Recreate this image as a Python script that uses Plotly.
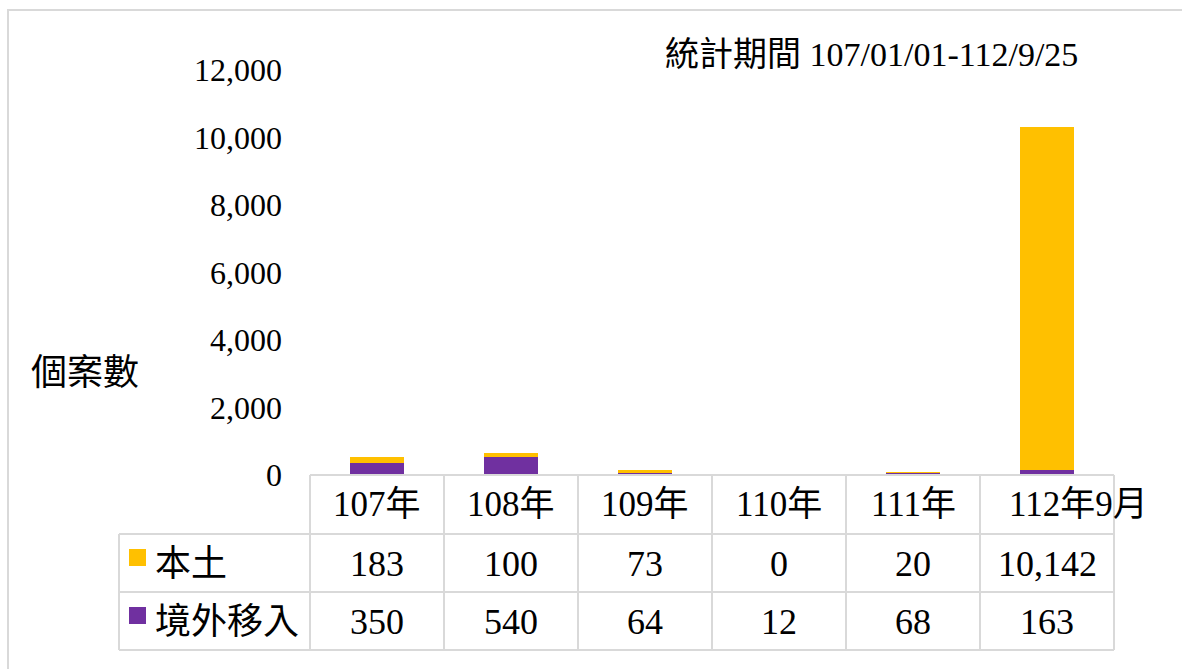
import plotly.graph_objects as go

categories = ["107年", "108年", "109年", "110年", "111年", "112年9月"]
local_cases = [183, 100, 73, 0, 20, 10142]
imported_cases = [350, 540, 64, 12, 68, 163]
series_names = ["本土", "境外移入"]
series_colors = ["#FFC000", "#7030A0"]
tick_values = [0, 2000, 4000, 6000, 8000, 10000, 12000]
title_text = "統計期間 107/01/01-112/9/25"
y_title = "個案數"

W, H = 1182, 669
L, R, T, B = 310, 1114, 70, 475  # plot area in pixels
PW, PH = R - L, B - T


def px(x):
    return (x - L) / PW


def py(y):
    return (B - y) / PH


NUM_FONT = "Liberation Serif, Noto Sans CJK TC"
GRID = "#D9D9D9"

fig = go.Figure()
fig.add_trace(go.Bar(x=categories, y=imported_cases, name=series_names[1],
                     marker=dict(color=series_colors[1], line=dict(width=0)), width=0.4))
fig.add_trace(go.Bar(x=categories, y=local_cases, name=series_names[0],
                     marker=dict(color=series_colors[0], line=dict(width=0)), width=0.4))

shapes = []
# outer frame
shapes.append(dict(type="rect", xref="paper", yref="paper", x0=px(8), x1=px(1200),
                   y0=py(10), y1=py(700), line=dict(color=GRID, width=2), layer="below"))
# table lines
row_y = [475, 534, 592, 650]
col_x = [L + i * PW / 6 for i in range(7)]
left_x = 119
shapes.append(dict(type="line", xref="paper", yref="paper", x0=px(L), x1=px(R),
                   y0=py(row_y[0]), y1=py(row_y[0]), line=dict(color=GRID, width=2)))
for yy in row_y[1:]:
    shapes.append(dict(type="line", xref="paper", yref="paper", x0=px(left_x), x1=px(R),
                       y0=py(yy), y1=py(yy), line=dict(color=GRID, width=2)))
for xx in col_x:
    shapes.append(dict(type="line", xref="paper", yref="paper", x0=px(xx), x1=px(xx),
                       y0=py(row_y[0]), y1=py(row_y[3]), line=dict(color=GRID, width=2)))
shapes.append(dict(type="line", xref="paper", yref="paper", x0=px(left_x), x1=px(left_x),
                   y0=py(row_y[1]), y1=py(row_y[3]), line=dict(color=GRID, width=2)))
# legend keys
for i, c in enumerate(series_colors):
    yc = (row_y[i + 1] + row_y[i + 2]) / 2
    shapes.append(dict(type="rect", xref="paper", yref="paper", x0=px(129), x1=px(146),
                       y0=py(yc - 14), y1=py(yc + 3), line=dict(width=0), fillcolor=c))

annotations = []
annotations.append(dict(text=title_text, xref="paper", yref="paper", x=px(663), y=py(54),
                        xanchor="left", yanchor="middle", showarrow=False,
                        font=dict(family=NUM_FONT, size=34, color="#000")))
annotations.append(dict(text=y_title, xref="paper", yref="paper", x=px(29), y=py(373),
                        xanchor="left", yanchor="middle", showarrow=False,
                        font=dict(family=NUM_FONT, size=36, color="#000")))
# header
for i, cat in enumerate(categories):
    a = dict(text=cat, xref="x", yref="paper", x=cat, y=py(505), xanchor="center",
             yanchor="middle", showarrow=False,
             font=dict(family=NUM_FONT, size=35, color="#000"))
    if i == len(categories) - 1:
        a.update(xanchor="left", xshift=-40)
    annotations.append(a)
# rows
for r, (name, vals) in enumerate([(series_names[0], local_cases), (series_names[1], imported_cases)]):
    yc = (row_y[r + 1] + row_y[r + 2]) / 2
    annotations.append(dict(text=name, xref="paper", yref="paper", x=px(153), y=py(yc + 1),
                            xanchor="left", yanchor="middle", showarrow=False,
                            font=dict(family=NUM_FONT, size=36, color="#000")))
    for cat, v in zip(categories, vals):
        annotations.append(dict(text=f"{v:,}", xref="x", yref="paper", x=cat, y=py(yc + 1),
                                xanchor="center", yanchor="middle", showarrow=False,
                                font=dict(family=NUM_FONT, size=36, color="#000")))

fig.update_layout(
    width=W, height=H, autosize=False,
    margin=dict(l=L, r=W - R, t=T, b=H - B, pad=0),
    paper_bgcolor="white", plot_bgcolor="white",
    barmode="stack", showlegend=False,
    xaxis=dict(range=[-0.5, len(categories) - 0.5], autorange=False,
               showticklabels=False, showgrid=False, showline=False, zeroline=False, ticks=""),
    yaxis=dict(range=[0, 12000], autorange=False, tickvals=tick_values, tickformat=",",
               showgrid=False, showline=False, zeroline=False, ticks="", ticklabelstandoff=27,
               tickfont=dict(family=NUM_FONT, size=32, color="#000")),
    shapes=shapes, annotations=annotations,
)

fig.write_html("out.html", config={"displayModeBar": False},
               post_script="document.body.style.margin='0';")
